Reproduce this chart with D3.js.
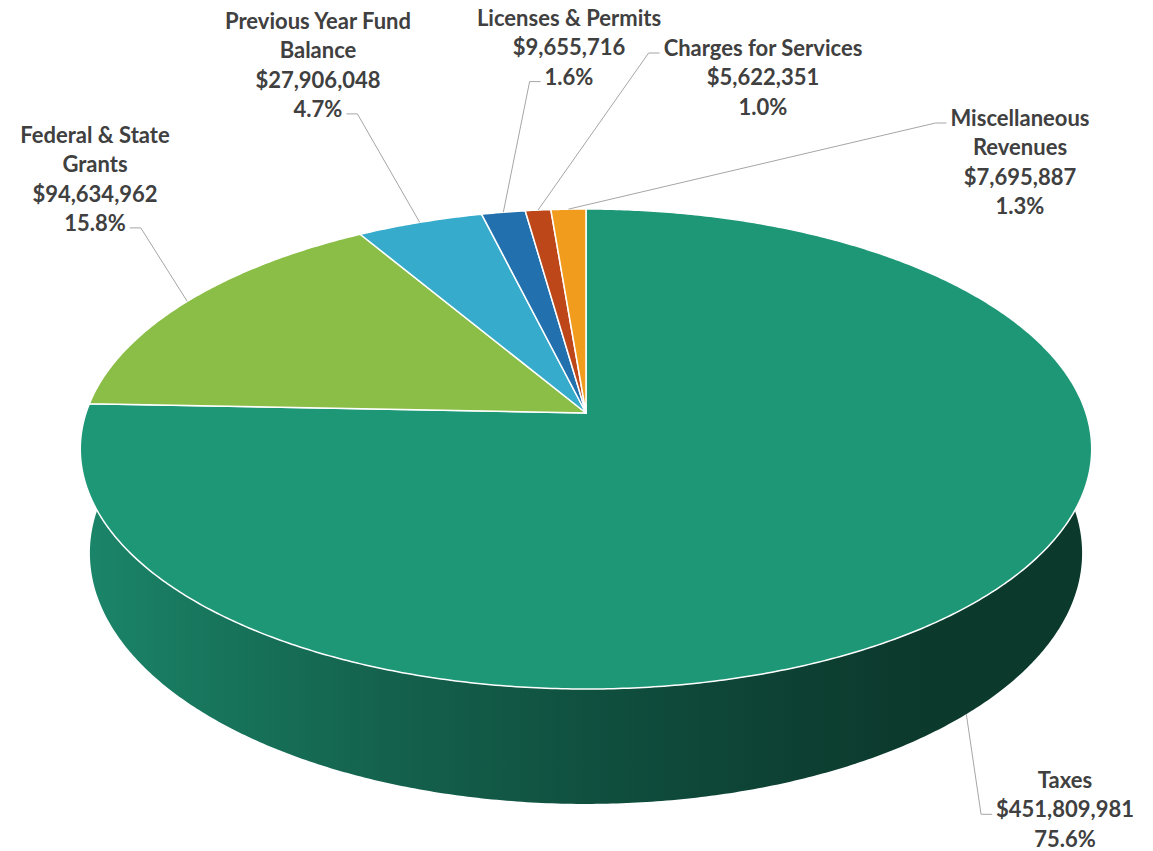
<!DOCTYPE html>
<html>
<head>
<meta charset="utf-8">
<script src="https://cdn.jsdelivr.net/npm/d3@7"></script>
<style>
  body { margin: 0; background: #fff; }
  text { font-family: Lato, "Open Sans", sans-serif; font-weight: bold; fill: #404040; }
</style>
</head>
<body>
<script>
// data
const categories = ["Taxes", "Federal & State Grants", "Previous Year Fund Balance",
    "Licenses & Permits", "Charges for Services", "Miscellaneous Revenues"];
const labelLines = [["Taxes"], ["Federal & State", "Grants"], ["Previous Year Fund", "Balance"],
    ["Licenses & Permits"], ["Charges for Services"], ["Miscellaneous", "Revenues"]];
const amounts = [451809981, 94634962, 27906048, 9655716, 5622351, 7695887];
const percents = ["75.6%", "15.8%", "4.7%", "1.6%", "1.0%", "1.3%"];
const colors = ["#1e9777", "#8bbe46", "#36abcb", "#2271ae", "#bd4718", "#f29c1e"];

// where each label block sits (center x, center of first line), and where its leader attaches
const labelPos = [
    { x: 1065, y: 780, side: "left", line: 1 },
    { x: 95, y: 135, side: "right", line: 3 },
    { x: 318, y: 21, side: "right", line: 3 },
    { x: 569, y: 18, side: "left", line: 2 },
    { x: 763, y: 48, side: "left", line: 0 },
    { x: 1020, y: 118, side: "left", line: 0 }
];

function main() {
    const width = 1153, height = 851;
    const fontSize = 22, lineGap = 29.3;

    const svg = d3.select("body").append("svg")
        .attr("width", width)
        .attr("height", height);

    // simple perspective camera for the 3D pie
    const cx = 586, cy = 413, A = 500;
    const sinT = 0.4692, cosT = 0.8831, r = 0.1699, eta = 0.238;

    function project(theta, level) {
        const x = Math.sin(theta), z = -Math.cos(theta), y = level ? -eta : 0;
        const depth = 1 - r * (y * sinT + z * cosT);
        return [cx + A * x / depth, cy - A * (y * cosT - z * sinT) / depth];
    }

    function samples(a0, a1) {
        const n = Math.max(2, Math.ceil((a1 - a0) / (Math.PI / 360)));
        return d3.range(n + 1).map(i => a0 + (a1 - a0) * i / n);
    }

    const arcs = d3.pie().sort(null).value(d => d)(amounts);
    const line = d3.line();

    const defs = svg.append("defs");
    arcs.forEach((d, i) => {
        const g = defs.append("linearGradient")
            .attr("id", "wall" + i)
            .attr("gradientUnits", "userSpaceOnUse")
            .attr("x1", 80).attr("x2", 1095).attr("y1", 0).attr("y2", 0);
        d3.range(11).forEach(j => {
            const t = j / 10;
            const k = Math.min(2.7, 0.33 + 2.9 * t);
            g.append("stop")
                .attr("offset", t)
                .attr("stop-color", d3.color(colors[i]).darker(k).formatHex());
        });
    });

    // outer walls, only the front part, back to front
    const frontLo = Math.acos(0.3), frontHi = 2 * Math.PI - Math.acos(0.3);
    const walls = arcs.map((d, i) => {
        const a0 = Math.max(d.startAngle, frontLo), a1 = Math.min(d.endAngle, frontHi);
        return { i, a0, a1, z: -Math.cos((a0 + a1) / 2) };
    }).filter(w => w.a1 > w.a0).sort((a, b) => a.z - b.z);

    svg.append("g").selectAll("path")
        .data(walls)
        .enter()
        .append("path")
        .attr("d", w => {
            const s = samples(w.a0, w.a1);
            const pts = s.map(t => project(t, 0)).concat(s.slice().reverse().map(t => project(t, 1)));
            return line(pts) + "Z";
        })
        .style("fill", w => "url(#wall" + w.i + ")");

    // top faces
    svg.append("g").selectAll("path")
        .data(arcs)
        .enter()
        .append("path")
        .attr("d", d => {
            const pts = [[cx, cy]].concat(samples(d.startAngle, d.endAngle).map(t => project(t, 0)));
            return line(pts) + "Z";
        })
        .style("fill", (d, i) => colors[i])
        .style("stroke", "#fff")
        .style("stroke-width", 1.5)
        .style("stroke-linejoin", "round");

    // labels
    const labels = svg.append("g").selectAll("text")
        .data(arcs)
        .enter()
        .append("text")
        .attr("text-anchor", "middle")
        .style("font-size", fontSize + "px");

    labels.each(function (d, i) {
        const rows = labelLines[i].concat([d3.format("$,")(amounts[i]), percents[i]]);
        const t = d3.select(this);
        rows.forEach((row, j) => {
            t.append("tspan")
                .attr("x", labelPos[i].x)
                .attr("y", labelPos[i].y + j * lineGap + 8)
                .text(row);
        });
    });

    // leader lines
    const leaders = svg.append("g");
    labels.each(function (d, i) {
        const p = labelPos[i];
        const span = d3.select(this).selectAll("tspan").nodes()[p.line];
        const w = span.getComputedTextLength();
        const mid = (d.startAngle + d.endAngle) / 2;
        const anchor = project(mid, -Math.cos(mid) > 0.19 ? 1 : 0);
        const ly = p.y + p.line * lineGap + 5;
        let xt, xe;
        if (p.side === "right") {
            xt = p.x + w / 2 + 4; xe = xt + 11;
        } else {
            xt = p.x - w / 2 - 4; xe = xt - 11;
        }
        leaders.append("path")
            .attr("d", line([anchor, [xe, ly], [xt, ly]]))
            .style("fill", "none")
            .style("stroke", "#a6a6a6")
            .style("stroke-width", 1);
    });
}
main();
</script>
</body>
</html>
